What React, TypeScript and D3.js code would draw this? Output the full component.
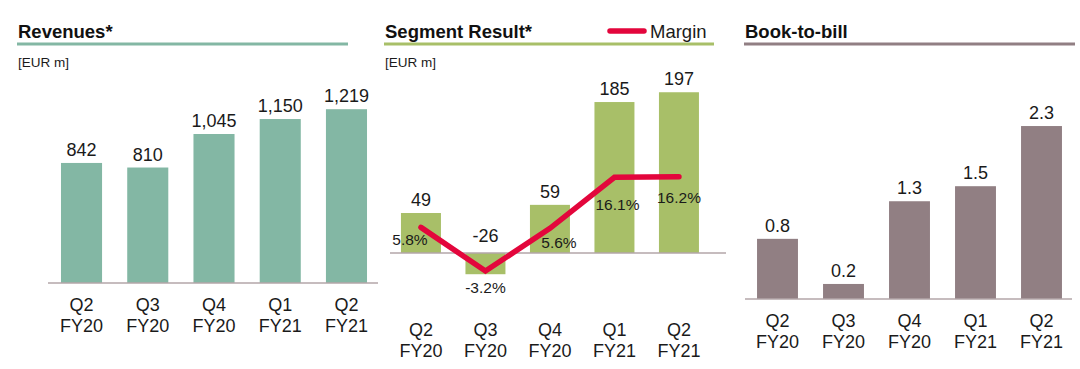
import React from "react";
import * as d3 from "d3";

const categories = ["Q2|FY20", "Q3|FY20", "Q4|FY20", "Q1|FY21", "Q2|FY21"];
const revenues = [842, 810, 1045, 1150, 1219];
const revenueLabels = ["842", "810", "1,045", "1,150", "1,219"];
const segmentResult = [49, -26, 59, 185, 197];
const margin = [5.8, -3.2, 5.6, 16.1, 16.2];
const marginLabels = ["5.8%", "-3.2%", "5.6%", "16.1%", "16.2%"];
const bookToBill = [0.8, 0.2, 1.3, 1.5, 2.3];
const bookToBillLabels = ["0.8", "0.2", "1.3", "1.5", "2.3"];

const FONT = "'Liberation Sans', Arial, Helvetica, sans-serif";
const TEXT = "#1a1a1a";
const AXIS = "#b3a6a9";
const TEAL = "#83b7a4";
const GREEN = "#a8bf68";
const MAUVE = "#917f83";
const RED = "#e3063c";

function CatLabels({ x, y0 }: { x: d3.ScaleBand<string>; y0: number }) {
  return (
    <g>
      {categories.map((c) => {
        const [q, fy] = c.split("|");
        const cx = (x(c) as number) + x.bandwidth() / 2;
        return (
          <text key={c} x={cx} textAnchor="middle" fontSize={18} fill={TEXT}>
            <tspan x={cx} y={y0}>{q}</tspan>
            <tspan x={cx} y={y0 + 21}>{fy}</tspan>
          </text>
        );
      })}
    </g>
  );
}

function Header({ x0, x1, title, color, unit }: { x0: number; x1: number; title: string; color: string; unit?: boolean }) {
  return (
    <g>
      <text x={x0 + 1} y={37.5} fontSize={18.5} fontWeight="bold" fill="#111">{title}</text>
      <line x1={x0} x2={x1} y1={44} y2={44} stroke={color} strokeWidth={3.2} />
      {unit && <text x={x0 + 1} y={66.5} fontSize={13.5} fill={TEXT}>[EUR m]</text>}
    </g>
  );
}

export default function App() {
  // Panel 1: revenues
  const x1 = d3.scaleBand<string>().domain(categories).range([48.4, 379.6]).paddingInner(0.38).paddingOuter(0.19);
  const y1 = d3.scaleLinear().domain([0, 1400]).range([283, 83.4]);

  // Panel 2: segment result
  const x2 = d3.scaleBand<string>().domain(categories).range([388.7, 711.2]).paddingInner(0.38).paddingOuter(0.19);
  const y2 = d3.scaleLinear().domain([-50, 250]).range([293.8, 49]);
  const ym = d3.scaleLinear().domain([-5, 20]).range([279.8, 158.4]);

  // Panel 3: book-to-bill
  const x3 = d3.scaleBand<string>().domain(categories).range([744.5, 1074.5]).paddingInner(0.38).paddingOuter(0.19);
  const y3 = d3.scaleLinear().domain([0, 2.5]).range([299, 111]);

  const line = d3
    .line<number>()
    .x((_, i) => (x2(categories[i]) as number) + x2.bandwidth() / 2)
    .y((d) => ym(d));

  const marginOffsets: [number, number][] = [
    [-11, 18],
    [0, 22],
    [9, 20],
    [3, 33],
    [0, 26],
  ];

  return (
    <svg width={1080} height={369} style={{ position: "absolute", left: 0, top: 0, background: "#fff" }} fontFamily={FONT}>
      <rect width={1080} height={369} fill="#fff" />
      {/* Panel 1 */}
      <Header x0={17} x1={348} title="Revenues*" color={TEAL} unit />
      {revenues.map((v, i) => (
        <rect key={i} x={x1(categories[i])} width={x1.bandwidth()} y={y1(v)} height={y1(0) - y1(v)} fill={TEAL} />
      ))}
      {revenues.map((v, i) => (
        <text key={i} x={(x1(categories[i]) as number) + x1.bandwidth() / 2} y={y1(v) - 7} textAnchor="middle" fontSize={18} fill={TEXT}>
          {revenueLabels[i]}
        </text>
      ))}
      <line x1={48} x2={378} y1={y1(0)} y2={y1(0)} stroke={AXIS} strokeWidth={1.3} />
      <CatLabels x={x1} y0={311} />

      {/* Panel 2 */}
      <Header x0={384} x1={714} title="Segment Result*" color={GREEN} unit />
      <line x1={610} x2={644} y1={31} y2={31} stroke={RED} strokeWidth={5.5} strokeLinecap="round" />
      <text x={650} y={37.5} fontSize={18.5} fill={TEXT}>Margin</text>
      {segmentResult.map((v, i) => (
        <rect
          key={i}
          x={x2(categories[i])}
          width={x2.bandwidth()}
          y={Math.min(y2(v), y2(0))}
          height={Math.abs(y2(0) - y2(v))}
          fill={GREEN}
        />
      ))}
      <line x1={390} x2={726} y1={y2(0)} y2={y2(0)} stroke={AXIS} strokeWidth={1.3} />
      {segmentResult.map((v, i) => (
        <text
          key={i}
          x={(x2(categories[i]) as number) + x2.bandwidth() / 2}
          y={v >= 0 ? y2(v) - 7 : y2(0) - 11}
          textAnchor="middle"
          fontSize={18}
          fill={TEXT}
        >
          {v}
        </text>
      ))}
      <path d={line(margin) || ""} fill="none" stroke={RED} strokeWidth={5.5} strokeLinecap="round" strokeLinejoin="miter" />
      {margin.map((m, i) => (
        <text
          key={i}
          x={(x2(categories[i]) as number) + x2.bandwidth() / 2 + marginOffsets[i][0]}
          y={ym(m) + marginOffsets[i][1]}
          textAnchor="middle"
          fontSize={15.5}
          fill={TEXT}
        >
          {marginLabels[i]}
        </text>
      ))}
      <CatLabels x={x2} y0={336} />

      {/* Panel 3 */}
      <Header x0={744} x1={1075} title="Book-to-bill" color={MAUVE} />
      {bookToBill.map((v, i) => (
        <rect key={i} x={x3(categories[i])} width={x3.bandwidth()} y={y3(v)} height={y3(0) - y3(v)} fill={MAUVE} />
      ))}
      {bookToBill.map((v, i) => (
        <text key={i} x={(x3(categories[i]) as number) + x3.bandwidth() / 2} y={y3(v) - 7} textAnchor="middle" fontSize={18} fill={TEXT}>
          {bookToBillLabels[i]}
        </text>
      ))}
      <line x1={745} x2={1072} y1={y3(0)} y2={y3(0)} stroke={AXIS} strokeWidth={1.3} />
      <CatLabels x={x3} y0={327} />
    </svg>
  );
}
